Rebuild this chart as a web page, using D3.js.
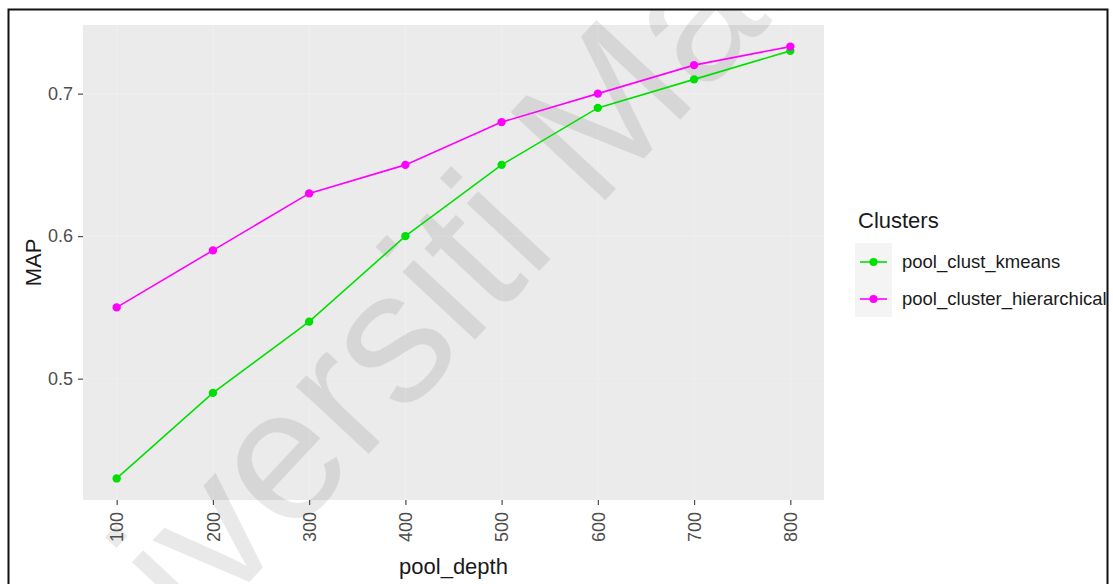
<!DOCTYPE html>
<html>
<head>
<meta charset="utf-8">
<script src="https://cdn.jsdelivr.net/npm/d3@7"></script>
<style>
  html, body { margin: 0; padding: 0; background: #fff; }
  svg { display: block; font-family: "Liberation Sans", Arial, sans-serif; }
</style>
</head>
<body>
<svg id="chart" width="1113" height="584"></svg>
<script>
// pool depth on the x axis
const poolDepth = [100, 200, 300, 400, 500, 600, 700, 800];
// MAP per clustering method
const kmeansMAP       = [0.43, 0.49, 0.54, 0.60, 0.65, 0.69, 0.71, 0.73];
const hierarchicalMAP = [0.55, 0.59, 0.63, 0.65, 0.68, 0.70, 0.72, 0.733];
const seriesNames  = ["pool_clust_kmeans", "pool_cluster_hierarchical"];
const seriesColors = ["#00e000", "#ff00ff"];
const yTicks = [0.5, 0.6, 0.7];

const series = [
  { name: seriesNames[0], color: seriesColors[0], values: kmeansMAP },
  { name: seriesNames[1], color: seriesColors[1], values: hierarchicalMAP }
];

const svg = d3.select("#chart");
const panel = { left: 83, right: 824, top: 25, bottom: 500 };

// ggplot-style 5% expansion of the data ranges
const allY = kmeansMAP.concat(hierarchicalMAP);
const yMin = d3.min(allY), yMax = d3.max(allY);
const yPad = (yMax - yMin) * 0.05;
const xPad = (d3.max(poolDepth) - d3.min(poolDepth)) * 0.05;

const x = d3.scaleLinear()
  .domain([d3.min(poolDepth) - xPad, d3.max(poolDepth) + xPad])
  .range([panel.left, panel.right]);
const y = d3.scaleLinear()
  .domain([yMin - yPad, yMax + yPad])
  .range([panel.bottom, panel.top]);

// everything sits inside the framed area
svg.append("clipPath").attr("id", "frameClip")
  .append("rect").attr("x", 9).attr("y", 10).attr("width", 1098).attr("height", 580);
const root = svg.append("g").attr("clip-path", "url(#frameClip)");

// panel background and faint grid
root.append("rect")
  .attr("x", panel.left).attr("y", panel.top)
  .attr("width", panel.right - panel.left).attr("height", panel.bottom - panel.top)
  .attr("fill", "#ebebeb");

const grid = root.append("g").attr("stroke", "#efefef").attr("stroke-width", 1);
grid.selectAll("line.gy").data(yTicks).join("line")
  .attr("x1", panel.left).attr("x2", panel.right)
  .attr("y1", d => y(d)).attr("y2", d => y(d));
grid.selectAll("line.gx").data(poolDepth).join("line")
  .attr("y1", panel.top).attr("y2", panel.bottom)
  .attr("x1", d => x(d)).attr("x2", d => x(d));

// watermark
root.append("text")
  .attr("transform", "translate(32,815) rotate(-47)")
  .attr("font-size", 188)
  .attr("fill", "#000")
  .attr("fill-opacity", 0.085)
  .text("Universiti Malaya");

// series lines and points
const line = d3.line()
  .x((d, i) => x(poolDepth[i]))
  .y(d => y(d));

series.forEach(s => {
  root.append("path")
    .datum(s.values)
    .attr("d", line)
    .attr("fill", "none")
    .attr("stroke", s.color)
    .attr("stroke-width", 1.6);
  root.append("g").selectAll("circle").data(s.values).join("circle")
    .attr("cx", (d, i) => x(poolDepth[i]))
    .attr("cy", d => y(d))
    .attr("r", 4.2)
    .attr("fill", s.color);
});

// y axis
const yAxis = root.append("g")
  .attr("transform", `translate(${panel.left},0)`)
  .call(d3.axisLeft(y).tickValues(yTicks).tickSize(5).tickPadding(5).tickFormat(d3.format(".1f")));
yAxis.select(".domain").remove();
yAxis.selectAll(".tick line").attr("stroke", "#4d4d4d").attr("stroke-width", 1.2);
yAxis.selectAll(".tick text")
  .attr("font-size", 18).attr("fill", "#4d4d4d")
  .attr("font-family", "Liberation Sans, Arial, sans-serif");

// x axis with vertical labels
const xAxis = root.append("g")
  .attr("transform", `translate(0,${panel.bottom})`)
  .call(d3.axisBottom(x).tickValues(poolDepth).tickSize(5).tickFormat(d3.format("d")));
xAxis.select(".domain").remove();
xAxis.selectAll(".tick line").attr("stroke", "#4d4d4d").attr("stroke-width", 1.2);
xAxis.selectAll(".tick text")
  .attr("font-size", 18).attr("fill", "#4d4d4d")
  .attr("font-family", "Liberation Sans, Arial, sans-serif")
  .attr("text-anchor", "end")
  .attr("dy", "0.35em")
  .attr("transform", "translate(0,12) rotate(-90)")
  .attr("x", 0).attr("y", 0);

// axis titles
root.append("text")
  .attr("x", (panel.left + panel.right) / 2).attr("y", 574)
  .attr("text-anchor", "middle")
  .attr("font-size", 22).attr("fill", "#1a1a1a")
  .text("pool_depth");
root.append("text")
  .attr("transform", `translate(41,${(panel.top + panel.bottom) / 2}) rotate(-90)`)
  .attr("text-anchor", "middle")
  .attr("font-size", 22).attr("fill", "#1a1a1a")
  .text("MAP");

// legend
const legend = root.append("g");
legend.append("text")
  .attr("x", 858).attr("y", 228)
  .attr("font-size", 22).attr("fill", "#1a1a1a")
  .text("Clusters");
const keys = legend.selectAll("g.key").data(series).join("g")
  .attr("transform", (d, i) => `translate(855,${243 + i * 37})`);
keys.append("rect")
  .attr("width", 37).attr("height", 37).attr("fill", "#f4f4f4");
keys.append("line")
  .attr("x1", 5).attr("x2", 32).attr("y1", 19).attr("y2", 19)
  .attr("stroke", d => d.color).attr("stroke-width", 1.6);
keys.append("circle")
  .attr("cx", 18.5).attr("cy", 19).attr("r", 4)
  .attr("fill", d => d.color);
keys.append("text")
  .attr("x", 47).attr("y", 19).attr("dy", "0.35em")
  .attr("font-size", 18.5).attr("fill", "#1a1a1a")
  .text(d => d.name);

// outer frame
svg.append("path")
  .attr("d", "M8.5,584 V9.5 H1107.5 V584")
  .attr("fill", "none").attr("stroke", "#111").attr("stroke-width", 2);
</script>
</body>
</html>
